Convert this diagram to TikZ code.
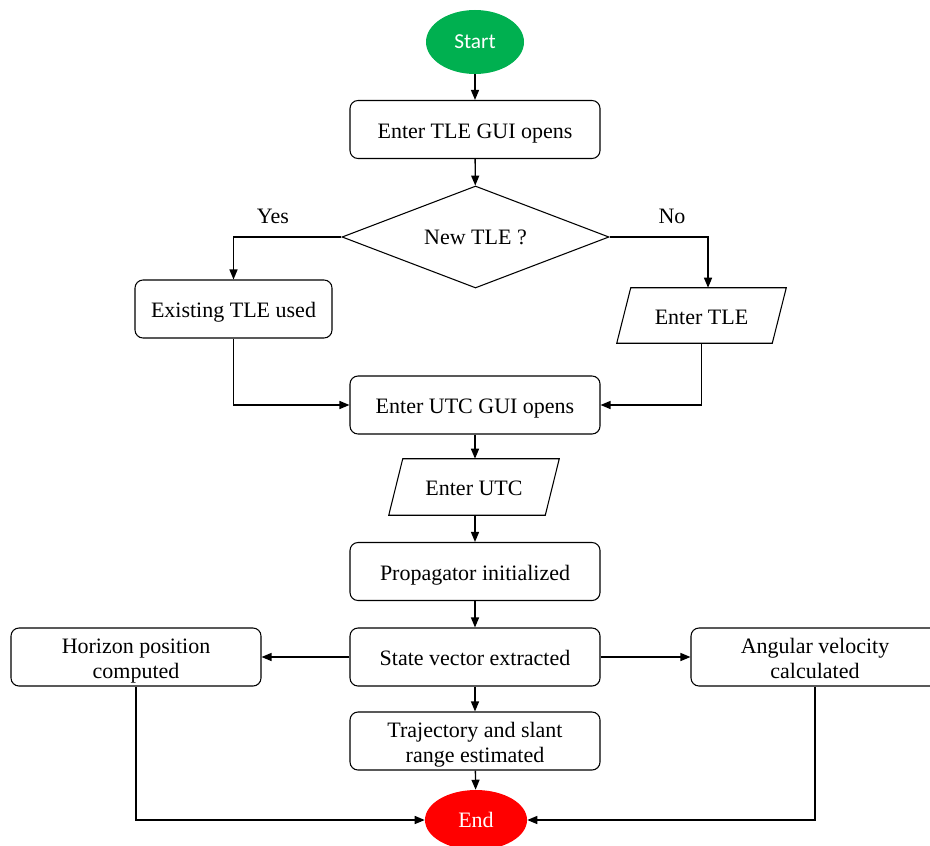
\documentclass[tikz,border=0pt]{standalone}
\usepackage{fontspec}
\setmainfont{Liberation Serif}
\newfontfamily\timesfont{Liberation Serif}
\newfontfamily\calibrifont{Carlito}
\usetikzlibrary{shapes.geometric,arrows.meta}

\definecolor{startgreen}{RGB}{0,176,80}
\definecolor{endred}{RGB}{255,0,0}

% invisible rules giving every text block the same top and bottom extent,
% so baselines sit at the same place in every box
\newcommand{\linetop}{\rule{0pt}{16.75pt}}
\newcommand{\linebot}{\rule[-4pt]{0pt}{4pt}}

\tikzset{
  txt/.style={font=\timesfont\fontsize{16.5}{18.75}\selectfont, align=center},
  proc/.style={txt, draw, line width=0.8pt, rounded corners=6pt, inner sep=0pt,
               minimum width=187.5pt, minimum height=43.5pt},
  io/.style={txt, inner sep=0pt},
  decide/.style={txt, draw, line width=0.8pt, diamond, aspect=2.6, inner sep=0pt,
                 minimum width=200.25pt, minimum height=76.5pt},
  terminal/.style={ellipse, inner sep=0pt, text=white},
  flow/.style={line width=1pt, -{Triangle[length=7.5pt,width=6pt]}},
  tag/.style={txt}
}

\begin{document}
\begin{tikzpicture}[x=0.75pt, y=-0.75pt]
  \useasboundingbox (0,0) rectangle (930,845);

  % terminals
  \node[terminal, fill=startgreen, minimum width=73.5pt, minimum height=48pt,
        font=\calibrifont\fontsize{16}{19}\selectfont] (start) at (475,42) {Start};
  \node[terminal, fill=endred, minimum width=76.5pt, minimum height=45pt,
        font=\timesfont\fontsize{16.5}{19.5}\selectfont] (stop) at (476,820) {End};

  % TLE input stage
  \node[proc] (tlegui) at (475,129.5) {\linetop Enter TLE GUI opens\linebot};
  \node[decide] (newtle) at (475.5,237) {New TLE ?};
  \node[proc, minimum width=147.75pt] (existing) at (233.5,309) {\linetop Existing TLE used\linebot};
  \node[io, minimum width=126.75pt, minimum height=41.25pt] (tle) at (701.5,315.5) {\linetop Enter TLE\linebot};
  \draw[line width=0.8pt] ([xshift=10.5pt]tle.north west) -- (tle.north east)
    -- ([xshift=-10.5pt]tle.south east) -- (tle.south west) -- cycle;

  % UTC input stage
  \node[proc] (utcgui) at (475,405) {\linetop Enter UTC GUI opens\linebot};
  \node[io, minimum width=127.5pt, minimum height=42pt] (utc) at (474,487) {\linetop Enter UTC\linebot};
  \draw[line width=0.8pt] ([xshift=10.5pt]utc.north west) -- (utc.north east)
    -- ([xshift=-10.5pt]utc.south east) -- (utc.south west) -- cycle;

  % computation stage
  \node[proc] (prop) at (475,571.5) {\linetop Propagator initialized\linebot};
  \node[proc] (state) at (475,657) {\linetop State vector extracted\linebot};
  \node[proc] (horizon) at (136,657) {\linetop Horizon position\\computed\linebot};
  \node[proc, minimum width=186pt] (angular) at (815,657) {\linetop Angular velocity\\calculated\linebot};
  \node[proc] (traj) at (475,741) {\linetop Trajectory and slant\\range estimated\linebot};

  % branch labels
  \node[tag] (yes) at (273,216) {Yes};
  \node[tag] (no) at (672,216) {No};

  % connectors
  \draw[flow] (start) -- (tlegui);
  \draw[flow] (tlegui) -- (newtle);
  \draw[flow] (newtle.west) -| (existing.north);
  \draw[flow] (newtle.east) -| ([xshift=4.9pt]tle.north);
  \draw[flow] (existing.south) |- (utcgui.west);
  \draw[flow] (tle.south) |- (utcgui.east);
  \draw[flow] (utcgui) -- (utcgui |- utc.north);
  \draw[flow] (utc.south -| utcgui) -- (prop);
  \draw[flow] (prop) -- (state);
  \draw[flow] (state.west) -- (horizon.east);
  \draw[flow] (state.east) -- (angular.west);
  \draw[flow] (state) -- (traj);
  \draw[flow] (traj) -- (stop);
  \draw[flow] (horizon.south) |- (stop.west);
  \draw[flow] (angular.south) |- (stop.east);
\end{tikzpicture}
\end{document}
